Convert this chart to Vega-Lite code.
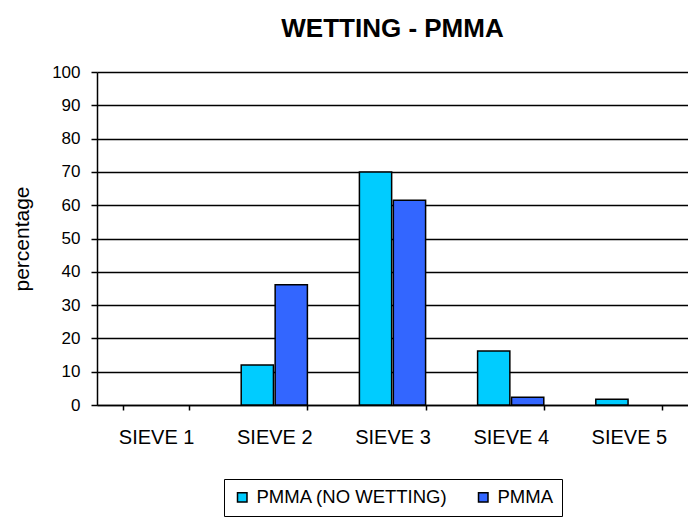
{
  "$schema": "https://vega.github.io/schema/vega-lite/v6.json",
  "width": 591,
  "height": 333,
  "autosize": {"type": "none"},
  "padding": {"left": 97, "top": 72, "right": 0, "bottom": 115},
  "background": "#ffffff",
  "title": {
    "text": "WETTING - PMMA",
    "font": "Liberation Sans",
    "fontSize": 26,
    "fontWeight": "bold",
    "color": "#000000",
    "offset": 21,
    "anchor": "middle"
  },
  "data": {
    "values": [
      {"sieve": "SIEVE 1", "series": "PMMA (NO WETTING)", "percentage": 0},
      {"sieve": "SIEVE 1", "series": "PMMA", "percentage": 0},
      {"sieve": "SIEVE 2", "series": "PMMA (NO WETTING)", "percentage": 12},
      {"sieve": "SIEVE 2", "series": "PMMA", "percentage": 36.1},
      {"sieve": "SIEVE 3", "series": "PMMA (NO WETTING)", "percentage": 70},
      {"sieve": "SIEVE 3", "series": "PMMA", "percentage": 61.5},
      {"sieve": "SIEVE 4", "series": "PMMA (NO WETTING)", "percentage": 16.2},
      {"sieve": "SIEVE 4", "series": "PMMA", "percentage": 2.3},
      {"sieve": "SIEVE 5", "series": "PMMA (NO WETTING)", "percentage": 1.7},
      {"sieve": "SIEVE 5", "series": "PMMA", "percentage": 0}
    ]
  },
  "mark": {"type": "bar", "stroke": "#000000", "strokeWidth": 1.5},
  "encoding": {
    "x": {
      "field": "sieve",
      "type": "nominal",
      "scale": {"paddingInner": 0.44, "paddingOuter": 0.22},
      "axis": {
        "title": null,
        "labelAngle": 0,
        "tickBand": "extent",
        "tickSize": 5,
        "tickWidth": 1.5,
        "tickColor": "#000000",
        "domainColor": "#000000",
        "domainWidth": 1.5,
        "labelPadding": 17,
        "labelFont": "Liberation Sans",
        "labelFontSize": 20,
        "labelColor": "#000000",
        "grid": false
      }
    },
    "xOffset": {
      "field": "series",
      "sort": ["PMMA (NO WETTING)", "PMMA"],
      "scale": {"paddingInner": 0.05}
    },
    "y": {
      "field": "percentage",
      "type": "quantitative",
      "scale": {"domain": [0, 100], "nice": false},
      "axis": {
        "title": "percentage",
        "titleFont": "Liberation Sans",
        "titleFontSize": 21,
        "titleFontWeight": "normal",
        "titleColor": "#000000",
        "titlePadding": 19,
        "values": [0, 10, 20, 30, 40, 50, 60, 70, 80, 90, 100],
        "labelFont": "Liberation Sans",
        "labelFontSize": 17,
        "labelColor": "#000000",
        "labelPadding": 11,
        "tickSize": 6,
        "tickWidth": 1.5,
        "tickColor": "#000000",
        "domainColor": "#000000",
        "domainWidth": 1.5,
        "grid": true,
        "gridColor": "#000000",
        "gridWidth": 1.3
      }
    },
    "strokeOpacity": {
      "condition": {"test": "datum.percentage == 0", "value": 0},
      "value": 1
    },
    "color": {
      "field": "series",
      "type": "nominal",
      "sort": ["PMMA (NO WETTING)", "PMMA"],
      "scale": {"domain": ["PMMA (NO WETTING)", "PMMA"], "range": ["#00CCFF", "#3366FF"]},
      "legend": {
        "title": null,
        "orient": "none",
        "legendX": 127,
        "legendY": 407,
        "direction": "horizontal",
        "strokeColor": "#000000",
        "padding": 9,
        "symbolType": "square",
        "symbolSize": 90,
        "symbolStrokeColor": "#000000",
        "symbolStrokeWidth": 1.5,
        "symbolOpacity": 1,
        "labelFont": "Liberation Sans",
        "labelFontSize": 18.5,
        "labelColor": "#000000",
        "labelLimit": 400,
        "labelOffset": 5,
        "columnPadding": 26
      }
    }
  },
  "config": {"view": {"stroke": null}}
}
